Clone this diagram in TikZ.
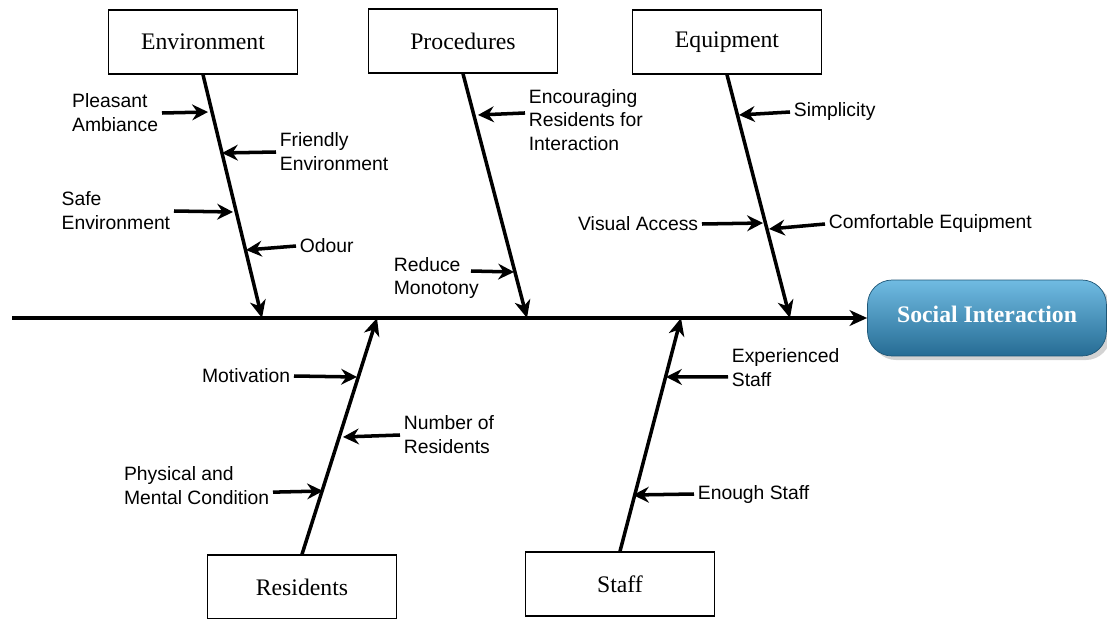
\documentclass[tikz,border=0pt]{standalone}
\usepackage{fontspec}
\setmainfont{Liberation Serif}
\setsansfont{Liberation Sans}
\usetikzlibrary{arrows.meta,shadows}
\definecolor{goaltop}{RGB}{112,187,226}
\definecolor{goalbot}{RGB}{38,108,148}
\begin{document}
\begin{tikzpicture}[x=0.02cm,y=-0.02cm,
    cat/.style={draw,line width=0.8pt,minimum width=3.78cm,minimum height=1.28cm,font=\fontsize{13.5}{16}\selectfont},
    lbl/.style={inner sep=2pt,align=left,font=\sffamily\fontsize{11}{13.6}\selectfont},
    bone/.style={line width=2pt,-{Stealth[length=10pt,width=9pt,inset=3pt]}},
    cause/.style={line width=2pt,-{Stealth[length=9pt,width=9pt,inset=3pt]}}]
    \useasboundingbox (0,0) rectangle (1107,619);
    \node[cat] (env) at (203,42) {Environment};
    \node[cat] (proc) at (463,41) {Procedures};
    \node[cat] (equip) at (727,42) {Equipment};
    \node[cat] (res) at (302,587) {Residents};
    \node[cat] (staff) at (620,584) {Staff};
    \node[draw=goalbot!80!black,line width=0.4pt,rounded corners=14pt,top color=goaltop,bottom color=goalbot,
        drop shadow={opacity=0.35},minimum width=4.78cm,minimum height=1.52cm,text=white,
        font=\bfseries\fontsize{13.5}{16}\selectfont] (goal) at (987,318) {\raisebox{4pt}{Social Interaction}};
    \coordinate (tail) at (12,318);
    \coordinate (e0) at (262,318);
    \coordinate (p0) at (527,318);
    \coordinate (q0) at (790,318);
    \coordinate (r0) at (377,318);
    \coordinate (s0) at (681,318);
    \draw[bone] (tail) -- (goal.west);
    \draw[bone] (env.south) -- (e0);
    \draw[bone] (proc.south) -- (p0);
    \draw[bone] (equip.south) -- (q0);
    \draw[bone] (res.north) -- (r0);
    \draw[bone] (staff.north) -- (s0);
    \node[lbl,anchor=east] (pa) at (162,113) {Pleasant\\Ambiance};
    \node[lbl,anchor=west] (fe) at (276,152) {Friendly\\Environment};
    \node[lbl,anchor=east] (se) at (174,211) {Safe\\Environment};
    \node[lbl,anchor=west] (od) at (296,246) {Odour};
    \node[lbl,anchor=west] (er) at (525,120) {Encouraging\\Residents for\\Interaction};
    \node[lbl,anchor=west] (rm) at (390,278) {Reduce\\Monotony};
    \coordinate (rmt) at (471,271);
    \node[lbl,anchor=west] (sp) at (790,112) {Simplicity};
    \node[lbl,anchor=east] (va) at (702,224) {Visual Access};
    \node[lbl,anchor=west] (ce) at (825,224) {Comfortable Equipment};
    \node[lbl,anchor=east] (mo) at (294,376) {Motivation};
    \node[lbl,anchor=west] (nr) at (400,435) {Number of\\Residents};
    \node[lbl,anchor=east] (pm) at (273,486) {Physical and\\Mental Condition};
    \node[lbl,anchor=west] (es) at (728,368) {Experienced\\Staff};
    \node[lbl,anchor=west] (en) at (694,494) {Enough Staff};
    \draw[cause] (pa.east) -- (208,112);
    \draw[cause] (fe.west) -- (222,153);
    \draw[cause] (se.east) -- (233,212);
    \draw[cause] (od.west) -- (246,250);
    \draw[cause] ([yshift=4pt]er.west) -- (478,115);
    \draw[cause] (rmt) -- (514,272);
    \draw[cause] (sp.west) -- (739,115);
    \draw[cause] (va.east) -- (763,223);
    \draw[cause] (ce.west) -- (769,229);
    \draw[cause] (mo.east) -- (357,377);
    \draw[cause] (nr.west) -- (343,437);
    \draw[cause] ([yshift=-3.5pt]pm.east) -- (323,491);
    \draw[cause] ([yshift=-5pt]es.west) -- (666,377);
    \draw[cause] (en.west) -- (633,495);
\end{tikzpicture}
\end{document}
